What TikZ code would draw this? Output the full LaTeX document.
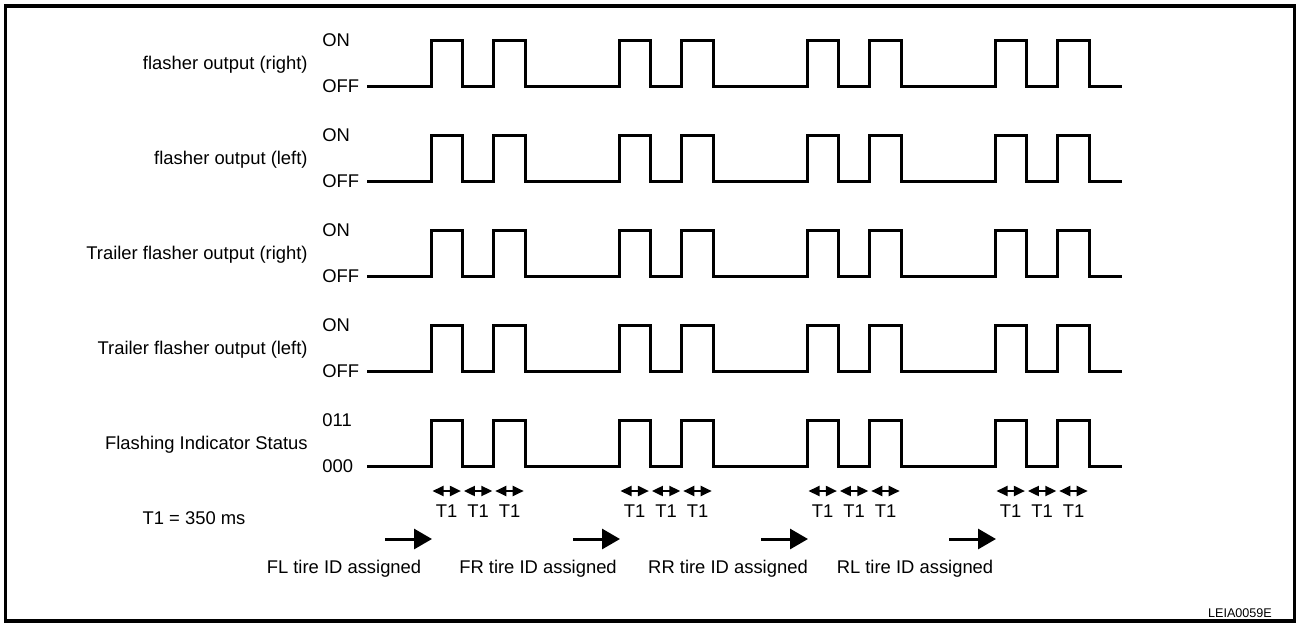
\documentclass[tikz,border=0pt]{standalone}
\usepackage{fontspec}
\setmainfont{Liberation Sans}
\usetikzlibrary{arrows.meta}
\begin{document}
\begin{tikzpicture}[x=0.5pt, y=-0.5pt, font=\fontsize{9.2}{11}\selectfont, line join=miter,
	every node/.style={inner sep=0pt, text height=6.6pt, text depth=0pt},
	sig/.style={line width=1.5pt},
	tarrow/.style={{Triangle[length=5.5pt,width=5pt]}-{Triangle[length=5.5pt,width=5pt]}, line width=1pt},
	bigarrow/.style={-{Triangle[length=9pt,width=10pt]}, line width=1.5pt}]
	\def\T{31.4} \def\G{188} \def\xs{431} % T1, group spacing, first rising edge
	\def\xa{367} \def\xe{1122} % start and end of the lines
	\useasboundingbox (0,0) rectangle (1297,622);
	\draw[line width=1.6pt] (5.5,6) rectangle (1294.5,621);
	% signals
	\foreach \r/\name/\hi/\lo in {0/flasher output (right)/ON/OFF, 1/flasher output (left)/ON/OFF, 2/Trailer flasher output (right)/ON/OFF, 3/Trailer flasher output (left)/ON/OFF, 4/Flashing Indicator Status/011/000}{
		\pgfmathsetmacro\yl{86+95*\r} \pgfmathsetmacro\yh{\yl-46}
		\node[anchor=east] (name\r) at (308,{\yl-23}) {\name};
		\node[anchor=west] (hi\r) at (322,\yh) {\hi};
		\node[anchor=west] (lo\r) at (322,\yl) {\lo};
		\draw[sig] (\xa,\yl) \foreach \g in {0,...,3}{
			-- ({\xs+\G*\g},\yl) -- ({\xs+\G*\g},\yh) -- ({\xs+\G*\g+\T},\yh) -- ({\xs+\G*\g+\T},\yl)
			-- ({\xs+\G*\g+2*\T},\yl) -- ({\xs+\G*\g+2*\T},\yh) -- ({\xs+\G*\g+3*\T},\yh) -- ({\xs+\G*\g+3*\T},\yl)}
			-- (\xe,\yl);
	}
	% T1 marks
	\foreach \g in {0,...,3}{
		\foreach \i in {0,1,2}{
			\draw[tarrow] ({\xs+\G*\g+\T*\i+1.5},491) -- ({\xs+\G*\g+\T*(\i+1)-1.5},491);
			\node (t\g\i) at ({\xs+\G*\g+\T*(\i+0.5)},511) {T1};
		}
	}
	\node (tdef) at (194,518) {T1 = 350 ms};
	% tire ID arrows
	\foreach \g/\tire/\cx in {0/FL/344, 1/FR/538, 2/RR/728, 3/RL/915}{
		\draw[bigarrow] ({\xs+\G*\g-46},539) -- ({\xs+\G*\g+1},539);
		\node (id\g) at (\cx,567) {\tire{} tire ID assigned};
	}
	\node[font=\fontsize{6.3}{7}\selectfont, text height=4.5pt] (code) at (1240,613) {LEIA0059E};
\end{tikzpicture}
\end{document}
